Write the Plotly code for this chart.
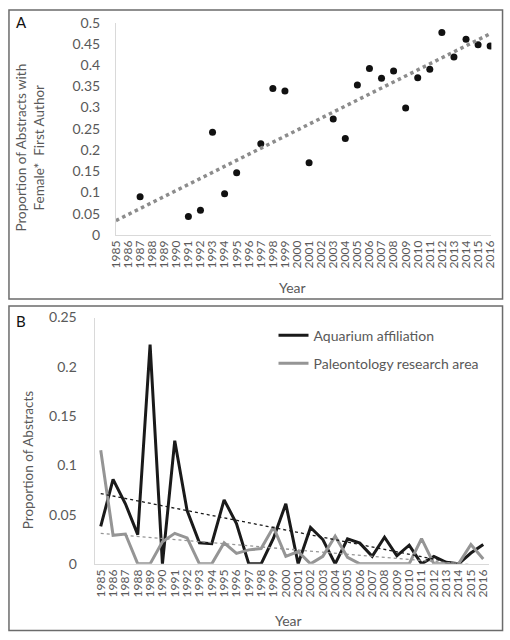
import numpy as np
import plotly.graph_objects as go

# ---------- Panel A data ----------
years_a = [1987, 1991, 1992, 1993, 1994, 1995, 1997, 1998, 1999, 2001, 2003, 2004,
           2005, 2006, 2007, 2008, 2009, 2010, 2011, 2012, 2013, 2014, 2015, 2016]
female_first = [0.090, 0.043, 0.058, 0.242, 0.097, 0.146, 0.2145, 0.345, 0.339, 0.170,
                0.273, 0.227, 0.353, 0.392, 0.369, 0.386, 0.299, 0.370, 0.390, 0.477,
                0.419, 0.461, 0.448, 0.445]

# ---------- Panel B data ----------
years_b = list(range(1985, 2017))
aquarium = [0.038, 0.0857, 0.061, 0.0297, 0.2226, 0.0, 0.125, 0.054, 0.0214, 0.0204,
            0.065, 0.041, 0.0, 0.0, 0.026, 0.061, 0.0, 0.037, 0.0247, 0.0,
            0.0253, 0.021, 0.0076, 0.027, 0.0082, 0.019, 0.0, 0.0076, 0.0016, 0.0,
            0.011, 0.0197]
paleo = [0.1154, 0.029, 0.0303, 0.0, 0.0, 0.0224, 0.031, 0.0264, 0.0, 0.0,
         0.0214, 0.0106, 0.0142, 0.0155, 0.0373, 0.0076, 0.0125, 0.0, 0.0076, 0.028,
         0.0066, 0.0, 0.0, 0.0, 0.0, 0.0, 0.0257, 0.0, 0.0, 0.0,
         0.0197, 0.005]

tick_years = [str(y) for y in years_b]
ticks_a = [0, 0.05, 0.1, 0.15, 0.2, 0.25, 0.3, 0.35, 0.4, 0.45, 0.5]
ticks_b = [0, 0.05, 0.1, 0.15, 0.2, 0.25]

FONT = "Lato"
GREY_TXT = "#595959"
W, H = 510, 640


def px_x(p):
    return p / W


def px_y(p):
    return 1 - p / H


fig = go.Figure()

# Panel A scatter
fig.add_trace(go.Scatter(x=years_a, y=female_first, mode="markers",
                         marker=dict(color="#111111", size=7),
                         xaxis="x", yaxis="y", showlegend=False))
# Panel A trendline (linear fit)
ca = np.polyfit(years_a, female_first, 1)
tx = np.array([years_b[0], years_b[-1]])
fig.add_trace(go.Scatter(x=tx, y=np.polyval(ca, tx), mode="lines",
                         line=dict(color="#8c8c8c", width=3.5, dash="dot"),
                         xaxis="x", yaxis="y", showlegend=False, hoverinfo="skip"))

# Panel B lines
fig.add_trace(go.Scatter(x=years_b, y=aquarium, mode="lines", name="Aquarium affiliation",
                         line=dict(color="#1a1a1a", width=3), xaxis="x2", yaxis="y2",
                         legendgroup="a"))
fig.add_trace(go.Scatter(x=years_b, y=paleo, mode="lines", name="Paleontology research area",
                         line=dict(color="#959595", width=3), xaxis="x2", yaxis="y2",
                         legendgroup="p"))
cb1 = np.polyfit(years_b, aquarium, 1)
cb2 = np.polyfit(years_b, paleo, 1)
fig.add_trace(go.Scatter(x=years_b, y=np.polyval(cb1, years_b), mode="lines",
                         line=dict(color="#1a1a1a", width=1.3, dash="dot"),
                         xaxis="x2", yaxis="y2", showlegend=False, hoverinfo="skip"))
fig.add_trace(go.Scatter(x=years_b, y=np.polyval(cb2, years_b), mode="lines",
                         line=dict(color="#959595", width=1.3, dash="dot"),
                         xaxis="x2", yaxis="y2", showlegend=False, hoverinfo="skip"))

tickfont = dict(family=FONT, size=14, color=GREY_TXT)
xtickfont = dict(family=FONT, size=12, color=GREY_TXT)

fig.update_layout(
    width=W, height=H,
    margin=dict(l=0, r=0, t=0, b=0),
    paper_bgcolor="white", plot_bgcolor="white",
    font=dict(family=FONT, color=GREY_TXT),
    xaxis=dict(domain=[px_x(111), px_x(497)], range=[1985, 2016.1], anchor="y",
               tickmode="array", tickvals=years_b, ticktext=tick_years, tickangle=-90,
               tickfont=xtickfont, showgrid=False, zeroline=False,
               showline=True, linecolor="#d9d9d9", linewidth=1, ticks=""),
    yaxis=dict(domain=[px_y(232), px_y(14)], range=[0, 0.5], anchor="x",
               tickmode="array", tickvals=ticks_a, ticktext=[str(t) for t in ticks_a],
               tickfont=tickfont, showgrid=False, zeroline=False,
               showline=True, linecolor="#d9d9d9", linewidth=1, ticks="", ticklabelstandoff=12),
    xaxis2=dict(domain=[px_x(89), px_x(495)], range=[1984.5, 2016.5], anchor="y2",
                tickmode="array", tickvals=years_b, ticktext=tick_years, tickangle=-90,
                tickfont=xtickfont, showgrid=False, zeroline=False,
                showline=True, linecolor="#d9d9d9", linewidth=1, ticks=""),
    yaxis2=dict(domain=[px_y(570), px_y(317)], range=[0, 0.25], anchor="x2",
                tickmode="array", tickvals=ticks_b, ticktext=[str(t) for t in ticks_b],
                tickfont=tickfont, showgrid=False, zeroline=False,
                showline=True, linecolor="#d9d9d9", linewidth=1, ticks="", ticklabelstandoff=14),
    legend=dict(x=px_x(273), y=px_y(319), xanchor="left", yanchor="top",
                font=dict(family=FONT, size=14, color=GREY_TXT),
                bgcolor="rgba(0,0,0,0)", itemwidth=30, tracegroupgap=7),
    showlegend=True,
    shapes=[
        dict(type="rect", xref="paper", yref="paper", x0=px_x(1), x1=px_x(508.5),
             y0=px_y(298), y1=px_y(1), line=dict(color="#6b6b6b", width=1.5)),
        dict(type="rect", xref="paper", yref="paper", x0=px_x(1), x1=px_x(508.5),
             y0=px_y(638.5), y1=px_y(305), line=dict(color="#6b6b6b", width=1.5)),
    ],
    annotations=[
        dict(text="A", x=px_x(6), y=px_y(13), xref="paper", yref="paper", showarrow=False,
             xanchor="left", yanchor="middle", font=dict(family=FONT, size=15, color="#111111")),
        dict(text="B", x=px_x(6), y=px_y(321), xref="paper", yref="paper", showarrow=False,
             xanchor="left", yanchor="middle", font=dict(family=FONT, size=15, color="#111111")),
        dict(text="Proportion of Abstracts with<br>Female*  First Author", x=px_x(23), y=px_y(142),
             xref="paper", yref="paper", showarrow=False, textangle=-90,
             xanchor="center", yanchor="middle",
             font=dict(family=FONT, size=13.5, color=GREY_TXT)),
        dict(text="Year", x=px_x(293), y=px_y(286), xref="paper", yref="paper", showarrow=False,
             xanchor="center", yanchor="middle", font=dict(family=FONT, size=14, color=GREY_TXT)),
        dict(text="Proportion of Abstracts", x=px_x(20), y=px_y(463),
             xref="paper", yref="paper", showarrow=False, textangle=-90,
             xanchor="center", yanchor="middle",
             font=dict(family=FONT, size=13.5, color=GREY_TXT)),
        dict(text="Year", x=px_x(288), y=px_y(628), xref="paper", yref="paper", showarrow=False,
             xanchor="center", yanchor="middle", font=dict(family=FONT, size=14, color=GREY_TXT)),
    ],
)

fig.write_html("out.html", config={"displayModeBar": False},
               post_script="document.body.style.margin='0';")
